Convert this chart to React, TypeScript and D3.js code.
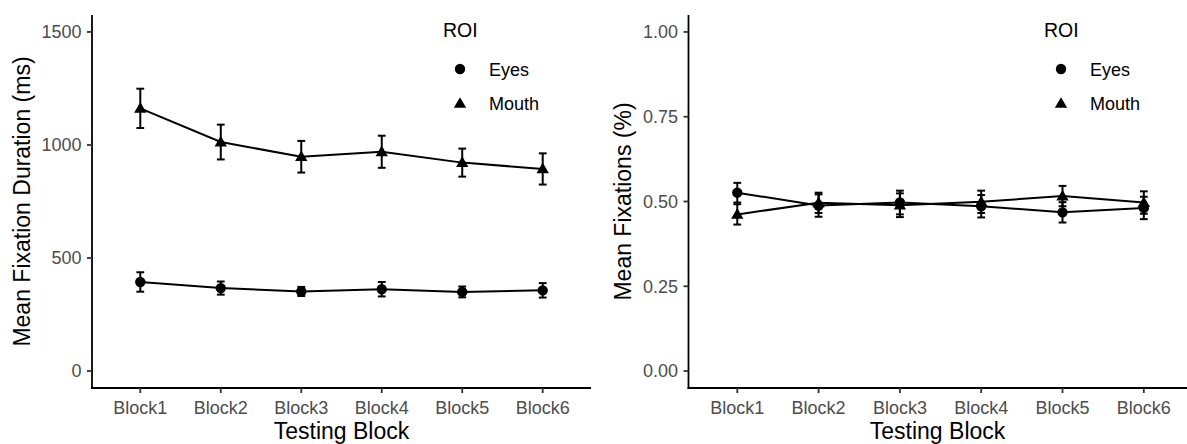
import React from "react";
import * as d3 from "d3";

const blocks = ["Block1", "Block2", "Block3", "Block4", "Block5", "Block6"];
const roiLabels = ["Eyes", "Mouth"];

const durEyes = [394, 367, 352, 362, 350, 357];
const durEyesErr = [43, 29, 20, 32, 24, 32];
const durMouth = [1162, 1013, 948, 970, 922, 894];
const durMouthErr = [87, 77, 70, 71, 62, 69];

const pctEyes = [0.526, 0.488, 0.497, 0.486, 0.468, 0.481];
const pctEyesErr = [0.029, 0.033, 0.035, 0.033, 0.03, 0.033];
const pctMouth = [0.462, 0.496, 0.489, 0.499, 0.516, 0.497];
const pctMouthErr = [0.03, 0.03, 0.035, 0.033, 0.03, 0.033];

const durTicks = [0, 500, 1000, 1500];
const pctTicks = [0, 0.25, 0.5, 0.75, 1.0];

const FONT = "'Liberation Sans', Arial, sans-serif";

type Series = { values: number[]; errs: number[]; shape: "circle" | "triangle" };

function Marker({ x, y, shape }: { x: number; y: number; shape: string }) {
  if (shape === "circle") return <circle cx={x} cy={y} r={5.2} fill="#000" />;
  const path = d3.symbol(d3.symbolTriangle, 66)() as string;
  return <path d={path} transform={`translate(${x},${y + 0.8})`} fill="#000" />;
}

function Panel({
  axisX,
  xEnd,
  domain,
  ticks,
  fmt,
  series,
  yTitle,
  yTitleX,
  legendX,
}: {
  axisX: number;
  xEnd: number;
  domain: [number, number];
  ticks: number[];
  fmt: (v: number) => string;
  series: Series[];
  yTitle: string;
  yTitleX: number;
  legendX: number;
}) {
  const top = 15;
  const bottom = 388;
  const x = d3.scalePoint<string>().domain(blocks).range([axisX, xEnd]).padding(0.6);
  const y = d3.scaleLinear().domain(domain).range([bottom, top]);
  const line = d3
    .line<number>()
    .x((_, i) => x(blocks[i]) as number)
    .y((v) => y(v));
  const cap = 3.9;
  const sw = 2;
  return (
    <g>
      {series.map((s, si) => (
        <g key={si}>
          <path d={line(s.values) as string} fill="none" stroke="#000" strokeWidth={sw} />
          {s.values.map((v, i) => {
            const cx = x(blocks[i]) as number;
            const y1 = y(v + s.errs[i]);
            const y2 = y(v - s.errs[i]);
            return (
              <g key={i} stroke="#000" strokeWidth={sw}>
                <line x1={cx} x2={cx} y1={y1} y2={y2} />
                <line x1={cx - cap} x2={cx + cap} y1={y1} y2={y1} />
                <line x1={cx - cap} x2={cx + cap} y1={y2} y2={y2} />
              </g>
            );
          })}
          {s.values.map((v, i) => (
            <Marker key={i} x={x(blocks[i]) as number} y={y(v)} shape={s.shape} />
          ))}
        </g>
      ))}
      {/* axes */}
      <line x1={axisX} x2={axisX} y1={top} y2={bottom + 0.9} stroke="#000" strokeWidth={1.8} />
      <line x1={axisX - 0.9} x2={xEnd} y1={bottom} y2={bottom} stroke="#000" strokeWidth={1.8} />
      {ticks.map((t) => (
        <g key={t}>
          <line x1={axisX - 5} x2={axisX} y1={y(t)} y2={y(t)} stroke="#333" strokeWidth={1.8} />
          <text
            x={axisX - 10.5}
            y={y(t)}
            dy="0.35em"
            textAnchor="end"
            fontSize={18}
            fill="#4D4D4D"
            fontFamily={FONT}
          >
            {fmt(t)}
          </text>
        </g>
      ))}
      {blocks.map((b) => (
        <g key={b}>
          <line x1={x(b)} x2={x(b)} y1={bottom} y2={bottom + 5} stroke="#333" strokeWidth={1.8} />
          <text x={x(b)} y={414} textAnchor="middle" fontSize={18} fill="#4D4D4D" fontFamily={FONT}>
            {b}
          </text>
        </g>
      ))}
      <text
        x={(axisX + xEnd) / 2 + (xEnd > 1187 ? -3 : 0)}
        y={439}
        textAnchor="middle"
        fontSize={23}
        fill="#000"
        fontFamily={FONT}
      >
        Testing Block
      </text>
      <text
        transform={`translate(${yTitleX},${(top + bottom) / 2}) rotate(-90)`}
        textAnchor="middle"
        fontSize={23}
        fill="#000"
        fontFamily={FONT}
      >
        {yTitle}
      </text>
      {/* legend */}
      <text x={legendX} y={37} fontSize={19.5} fill="#000" fontFamily={FONT}>
        ROI
      </text>
      {roiLabels.map((lab, i) => (
        <g key={lab}>
          <Marker x={legendX + 17} y={69 + i * 34.5} shape={i === 0 ? "circle" : "triangle"} />
          <text x={legendX + 46} y={75.5 + i * 34.5} fontSize={18} fill="#000" fontFamily={FONT}>
            {lab}
          </text>
        </g>
      ))}
    </g>
  );
}

export default function App() {
  return (
    <svg
      width={1187}
      height={444}
      style={{ position: "absolute", left: 0, top: 0, background: "#fff" }}
    >
      <rect width={1187} height={444} fill="#fff" />
      <Panel
        axisX={92}
        xEnd={591}
        domain={[-75, 1575]}
        ticks={durTicks}
        fmt={(v) => String(v)}
        series={[
          { values: durEyes, errs: durEyesErr, shape: "circle" },
          { values: durMouth, errs: durMouthErr, shape: "triangle" },
        ]}
        yTitle="Mean Fixation Duration (ms)"
        yTitleX={30}
        legendX={443}
      />
      <Panel
        axisX={688.5}
        xEnd={1192.6}
        domain={[-0.05, 1.05]}
        ticks={pctTicks}
        fmt={(v) => v.toFixed(2)}
        series={[
          { values: pctEyes, errs: pctEyesErr, shape: "circle" },
          { values: pctMouth, errs: pctMouthErr, shape: "triangle" },
        ]}
        yTitle="Mean Fixations (%)"
        yTitleX={631}
        legendX={1044}
      />
    </svg>
  );
}
